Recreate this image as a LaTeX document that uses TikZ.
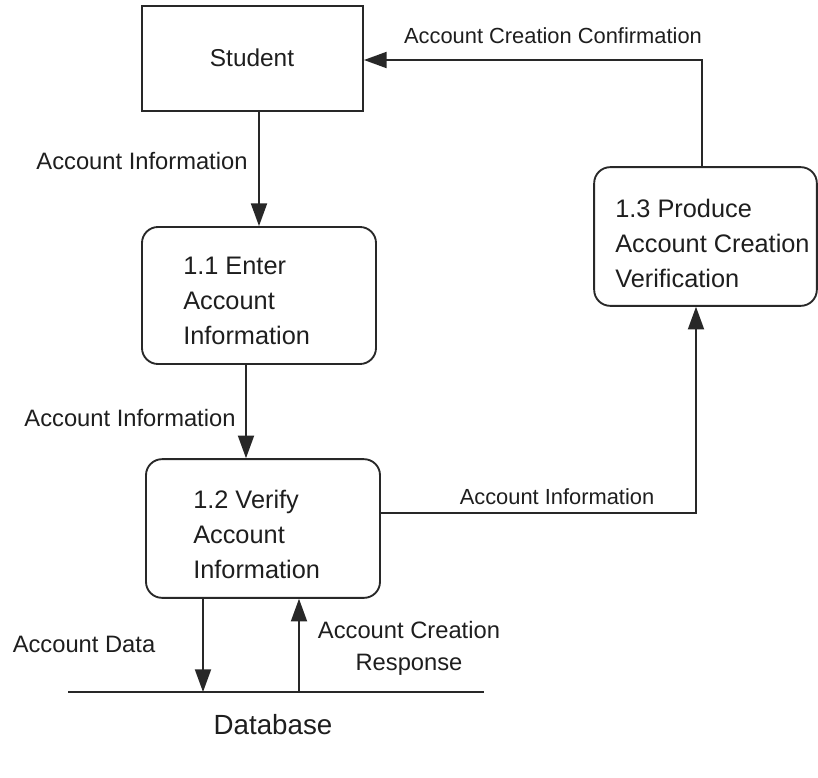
\documentclass[tikz,border=0pt]{standalone}
\usepackage{fontspec}
\setmainfont{Liberation Sans}
\usetikzlibrary{arrows.meta}
\definecolor{ln}{RGB}{40,40,40}
\definecolor{tx}{RGB}{30,30,30}
\begin{document}
\begin{tikzpicture}[x=0.75pt,y=-0.75pt,
  entity/.style={draw=ln,line width=1.4pt,rectangle,inner sep=0pt},
  proc/.style={draw=ln,line width=1.4pt,rectangle,rounded corners=12pt,inner sep=0pt,minimum width=175.5pt,minimum height=104pt},
  ptext/.style={anchor=west,align=left,inner sep=0pt,text=tx,font=\fontsize{19}{26.25}\selectfont},
  lbl/.style={inner sep=0pt,text=tx,font=\fontsize{17.8}{24}\selectfont,align=center},
  slbl/.style={inner sep=0pt,text=tx,font=\fontsize{16.4}{20}\selectfont},
  flow/.style={draw=ln,line width=1.4pt,-{Triangle[length=17pt,width=12pt]}},
  plain/.style={draw=ln,line width=1.4pt}]
\useasboundingbox (0,0) rectangle (818,778);
% nodes
\node[entity,minimum width=165.75pt,minimum height=78.75pt] (stu) at (252.5,58.5) {};
\node[text=tx,inner sep=0pt,font=\fontsize{18.3}{22}\selectfont] (stut) at (252,58) {Student};
\node[proc,minimum height=102.75pt] (p11) at (259,295.5) {};
\node[ptext] (p11t) at (183,301) {1.1 Enter\\Account\\Information};
\node[proc] (p12) at (263,528.5) {};
\node[ptext] (p12t) at (193,534) {1.2 Verify\\Account\\Information};
\node[proc,minimum width=167pt] (p13) at (705.5,236.5) {};
\node[ptext] (p13t) at (615,243) {1.3 Produce\\Account Creation\\Verification};
% database
\coordinate (db1) at (68,692);
\coordinate (db2) at (484,692);
\draw[plain] (db1) -- (db2);
\node[text=tx,inner sep=0pt,font=\fontsize{20.8}{24}\selectfont] (dbt) at (273,725) {Database};
% helper coordinates
\coordinate (a1) at (246,0);
\coordinate (a2) at (203,0);
\coordinate (a3) at (299,0);
\coordinate (a4) at (696,0);
\coordinate (a5) at (702,60);
\coordinate (y12) at (0,513);
% connectors
\draw[flow] (stu.south -| p11.north) -- (p11.north);
\draw[flow] (p11.south -| a1) -- (p12.north -| a1);
\draw[flow] (p12.south -| a2) -- (db1 -| a2);
\draw[flow] (db1 -| a3) -- (p12.south -| a3);
\draw[flow] (p12.east |- y12) -| (p13.south -| a4);
\draw[flow] (p13.north -| a5) |- (stu.east |- a5);
% labels
\node[lbl] (l1) at (142,161) {Account Information};
\node[lbl] (l2) at (130,418) {Account Information};
\node[slbl] (l3) at (557,497) {Account Information};
\node[slbl] (l4) at (553,36) {Account Creation Confirmation};
\node[lbl] (l5) at (84,644) {Account Data};
\node[lbl] (l6) at (409,648) {Account Creation\\Response};
\end{tikzpicture}
\end{document}
